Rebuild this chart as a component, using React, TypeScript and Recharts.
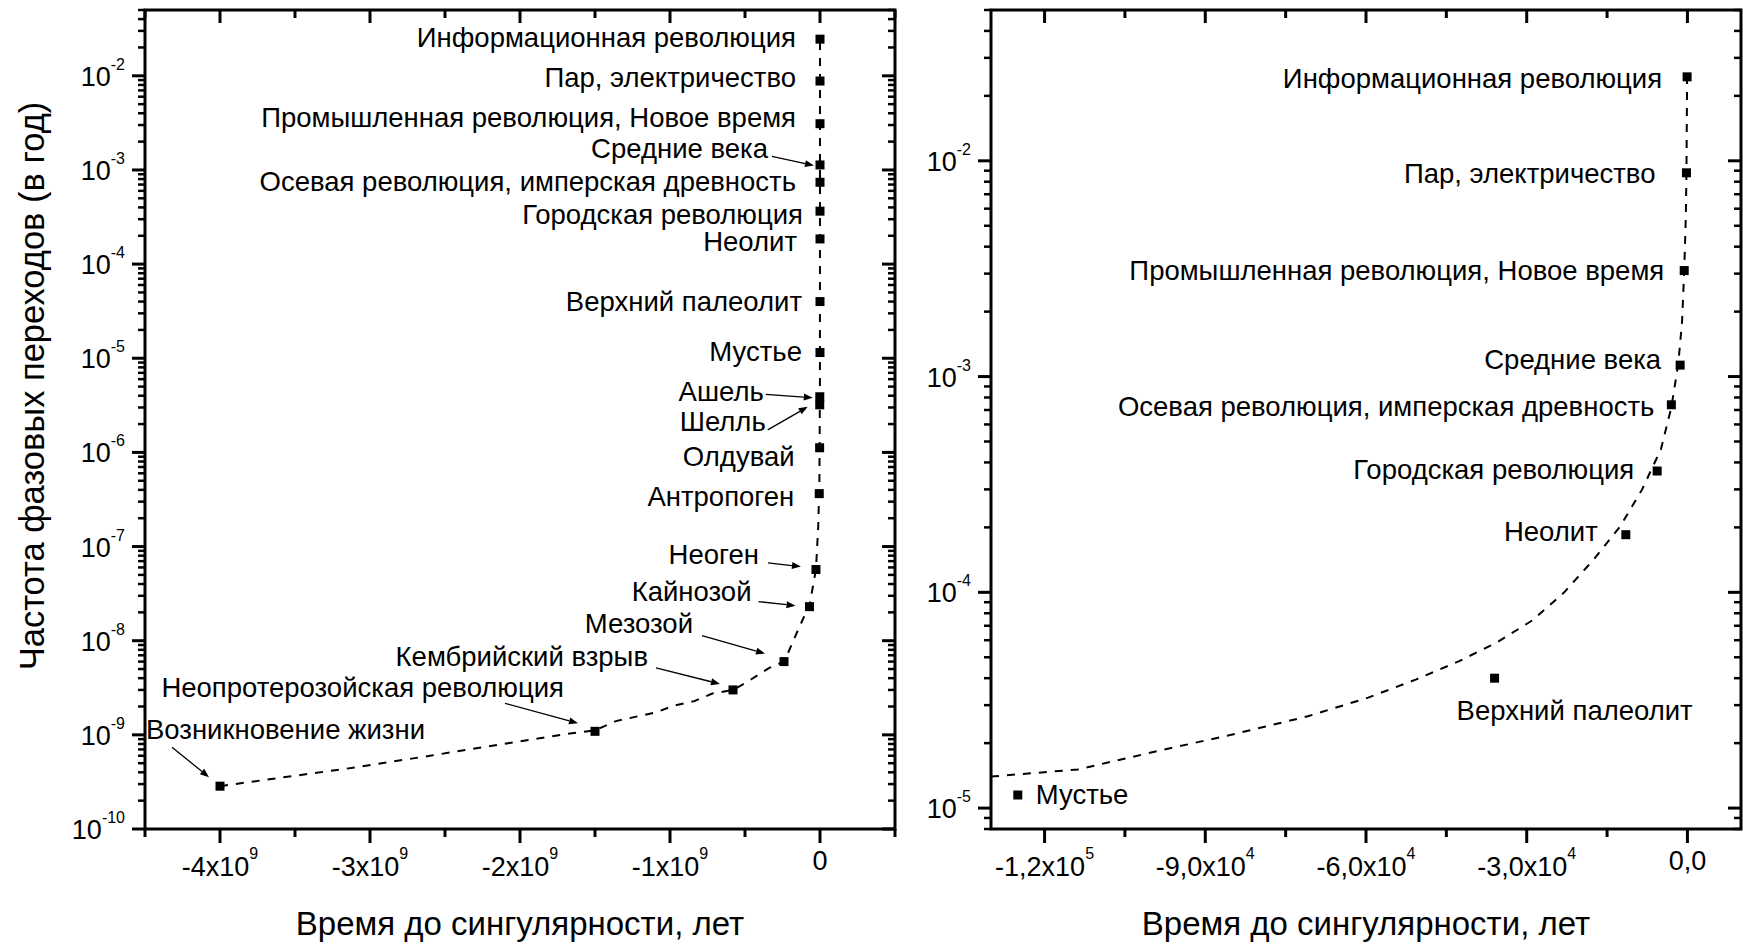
import React from "react";
import { ScatterChart, Scatter, XAxis, YAxis, ReferenceArea } from "recharts";

const FONT = "'Liberation Sans', Arial, Helvetica, sans-serif";
const W = 1743;
const H = 945;
const PLOT_TOP = 10;
const PLOT_BOTTOM = 829;
const LEFT_BOX = [145, 895];
const RIGHT_BOX = [991, 1741];

// события: время до сингулярности (лет) и частота фазовых переходов (в год)
const eventNames = [
  "Информационная революция",
  "Пар, электричество",
  "Промышленная революция, Новое время",
  "Средние века",
  "Осевая революция, имперская древность",
  "Городская революция",
  "Неолит",
  "Верхний палеолит",
  "Мустье",
  "Ашель",
  "Шелль",
  "Олдувай",
  "Антропоген",
  "Неоген",
  "Кайнозой",
  "Мезозой",
  "Кембрийский взрыв",
  "Неопротерозойская революция",
  "Возникновение жизни",
];
const eventYears = [
  -60, -180, -600, -1360, -3000, -5650, -11500, -36000, -125000, -1.4e6, -1.8e6,
  -2.5e6, -5e6, -2.7e7, -7e7, -2.4e8, -5.8e8, -1.5e9, -4.0e9,
];
const eventRates = [
  0.0245, 0.0088, 0.0031, 0.00113, 7.4e-4, 3.65e-4, 1.85e-4, 4.0e-5, 1.15e-5, 3.9e-6,
  3.2e-6, 1.12e-6, 3.65e-7, 5.7e-8, 2.3e-8, 6.0e-9, 3.0e-9, 1.09e-9, 2.85e-10,
];
const RIGHT_COUNT = 9; // правая панель: последние 120 тыс. лет

// пунктирная аппроксимация
const fitLeftYears = [
  -4.0e9, -3.6e9, -3.1e9, -2.6e9, -2.03e9, -1.69e9, -1.5e9, -1.36e9, -1.09e9, -0.985e9,
  -0.838e9, -0.718e9, -0.578e9, -0.46e9, -0.338e9, -0.238e9, -0.16e9, -0.105e9, -0.071e9,
  -0.051e9, -0.027e9, -0.012e9, -4e6, -5e5, -60,
];
const fitLeftRates = [
  2.85e-10, 3.5e-10, 4.5e-10, 6.0e-10, 8.4e-10, 1.02e-9, 1.12e-9, 1.4e-9, 1.74e-9, 2.02e-9,
  2.28e-9, 2.75e-9, 3.0e-9, 3.87e-9, 5.15e-9, 6.0e-9, 1.16e-8, 1.82e-8, 2.3e-8, 3.5e-8,
  5.7e-8, 1.6e-7, 5e-7, 5e-6, 0.0245,
];
const fitRightYears = [
  -130000, -113800, -98800, -84700, -70700, -59600, -50600, -42600, -35600, -29000, -23000,
  -17500, -12500, -8450, -4950, -3000, -1700, -1000, -600, -300, -180, -60,
];
const fitRightRates = [
  1.4e-5, 1.51e-5, 1.84e-5, 2.2e-5, 2.67e-5, 3.25e-5, 3.95e-5, 4.8e-5, 5.85e-5, 7.4e-5, 1.0e-4,
  1.42e-4, 2.03e-4, 3.0e-4, 4.6e-4, 7.2e-4, 1.15e-3, 1.8e-3, 3.1e-3, 5.5e-3, 8.9e-3, 2.45e-2,
];

// оси
const leftXDomain = [-4.5e9, 0.5e9];
const leftXTicks = [-4.5e9, -4e9, -3.5e9, -3e9, -2.5e9, -2e9, -1.5e9, -1e9, -0.5e9, 0, 0.5e9];
const leftXMajor = [-4e9, -3e9, -2e9, -1e9, 0];
const leftXLabels = [["-4x10", "9"], ["-3x10", "9"], ["-2x10", "9"], ["-1x10", "9"], ["0", ""]];
const leftYDomain = [1e-10, 0.05];

const rightXDomain = [-1.3e5, 1e4];
const rightXTicks = [-1.2e5, -1.05e5, -9e4, -7.5e4, -6e4, -4.5e4, -3e4, -1.5e4, 0];
const rightXMajor = [-1.2e5, -9e4, -6e4, -3e4, 0];
const rightXLabels = [["-1,2x10", "5"], ["-9,0x10", "4"], ["-6,0x10", "4"], ["-3,0x10", "4"], ["0,0", ""]];
const rightYDomain = [8e-6, 0.05];

const minorSteps = [1, 2, 3, 4, 5, 6, 7, 8, 9];

const xTitle = "Время до сингулярности, лет";
const yTitle = "Частота фазовых переходов (в год)";

// расположение подписей относительно точек
type Lbl = { dx: number; dy: number; anchor?: "start" | "end"; arrow?: number[] };
const leftLabels: Lbl[] = [
  { dx: -24, dy: -2 },
  { dx: -24, dy: -4 },
  { dx: -24, dy: -6 },
  { dx: -52, dy: -16, arrow: [-48, -8.5, -6, 0.5] },
  { dx: -24, dy: -1 },
  { dx: -17, dy: 3 },
  { dx: -23, dy: 3 },
  { dx: -18, dy: 0 },
  { dx: -18, dy: -1 },
  { dx: -56, dy: -5, arrow: [-54, -2.4, -7, 1] },
  { dx: -54, dy: 17, arrow: [-52, 25, -12, 2] },
  { dx: -25, dy: 9 },
  { dx: -25, dy: 3 },
  { dx: -57, dy: -15, arrow: [-48, -6.7, -15, -3] },
  { dx: -58, dy: -15, arrow: [-51, -5, -14, -1] },
  { dx: -91, dy: -38, arrow: [-82, -26, -19, -8] },
  { dx: -85, dy: -33, arrow: [-77, -22, -13, -6] },
  { dx: -31, dy: -44, arrow: [-90, -28, -17, -8] },
  { dx: -74, dy: -57, anchor: "start", arrow: [-48, -39, -11, -9] },
];
const rightLabels: Lbl[] = [
  { dx: -25, dy: 2 },
  { dx: -31, dy: 1 },
  { dx: -20, dy: 0 },
  { dx: -19, dy: -6 },
  { dx: -17, dy: 2 },
  { dx: -23, dy: -2 },
  { dx: -28, dy: -3 },
  { dx: -38, dy: 32, anchor: "start" },
  { dx: 18, dy: 0, anchor: "start" },
];

const events = eventNames.map((name, i) => ({ name, i, t: eventYears[i], f: eventRates[i] }));
const fitLeft = fitLeftYears.map((t, i) => ({ t, f: fitLeftRates[i] }));
const fitRight = fitRightYears.map((t, i) => ({ t, f: fitRightRates[i] }));

const logTicks = (lo: number, hi: number) => {
  const out: number[] = [];
  for (let d = Math.floor(Math.log10(lo)); d <= Math.floor(Math.log10(hi)); d++) {
    for (const m of minorSteps) {
      const v = m * Math.pow(10, d);
      if (v >= lo * 0.999 && v <= hi * 1.001) out.push(v);
    }
  }
  return out;
};

const Arrow = ({ x1, y1, x2, y2 }: any) => {
  const a = Math.atan2(y2 - y1, x2 - x1);
  const bx = x2 - 9 * Math.cos(a);
  const by = y2 - 9 * Math.sin(a);
  const px = -Math.sin(a) * 3.5;
  const py = Math.cos(a) * 3.5;
  return (
    <g>
      <line x1={x1} y1={y1} x2={bx} y2={by} stroke="#000" strokeWidth={1.3} />
      <polygon points={`${x2},${y2} ${bx + px},${by + py} ${bx - px},${by - py}`} fill="#000" />
    </g>
  );
};

const EventMark = ({ cx, cy, payload, labels }: any) => {
  const l: Lbl | undefined = labels[payload.i];
  return (
    <g>
      <rect x={cx - 4.5} y={cy - 4.5} width={9} height={9} fill="#000" />
      {l && (
        <text
          x={cx + l.dx}
          y={cy + l.dy}
          textAnchor={l.anchor ?? "end"}
          dominantBaseline="central"
          fontFamily={FONT}
          fontSize={27.5}
          fill="#000"
        >
          {payload.name}
        </text>
      )}
      {l && l.arrow && (
        <Arrow x1={cx + l.arrow[0]} y1={cy + l.arrow[1]} x2={cx + l.arrow[2]} y2={cy + l.arrow[3]} />
      )}
    </g>
  );
};

const XTick = ({ x, payload, majors, labels }: any) => {
  const i = majors.findIndex((m: number) => Math.abs(m - payload.value) < 1e-6 * Math.max(1, Math.abs(m)));
  const major = i >= 0;
  const lbl = major ? labels[i] : null;
  return (
    <g>
      <line x1={x} x2={x} y1={PLOT_BOTTOM} y2={PLOT_BOTTOM + (major ? 14 : 8)} stroke="#000" strokeWidth={3} />
      <line x1={x} x2={x} y1={PLOT_TOP} y2={PLOT_TOP + (major ? 13 : 8)} stroke="#000" strokeWidth={3} />
      {lbl && (
        <text x={x} y={lbl[1] ? 876 : 870} textAnchor="middle" fontFamily={FONT} fontSize={27} fill="#000">
          {lbl[0]}
          {lbl[1] && (
            <tspan dy={-17} fontSize={16}>
              {lbl[1]}
            </tspan>
          )}
        </text>
      )}
    </g>
  );
};

const YTick = ({ y, payload, box }: any) => {
  const e = Math.log10(payload.value);
  const major = Math.abs(e - Math.round(e)) < 1e-6;
  const len = major ? 13 : 7;
  const sw = major ? 3 : 2.5;
  return (
    <g>
      <line x1={box[0] - len} x2={box[0]} y1={y} y2={y} stroke="#000" strokeWidth={sw} />
      <line x1={box[1] - len} x2={box[1]} y1={y} y2={y} stroke="#000" strokeWidth={sw} />
      {major && (
        <text x={box[0] - 20} y={y + 10} textAnchor="end" fontFamily={FONT} fontSize={27} fill="#000">
          10
          <tspan dy={-16} fontSize={16}>
            {Math.round(e)}
          </tspan>
        </text>
      )}
    </g>
  );
};

const Panel = ({ box, xDomain, yDomain, xTicks, xMajor, xLabels, data, fit, labels }: any) => {
  const yAxisW = 100;
  const xAxisH = 60;
  return (
    <div style={{ position: "absolute", left: 0, top: 0 }}>
      <ScatterChart
        width={W}
        height={H}
        margin={{ top: PLOT_TOP, left: box[0] - yAxisW, right: W - box[1], bottom: H - PLOT_BOTTOM - xAxisH }}
      >
        <XAxis
          type="number"
          dataKey="t"
          domain={xDomain}
          ticks={xTicks}
          interval={0}
          allowDataOverflow
          height={xAxisH}
          axisLine={false}
          tickLine={false}
          tickSize={0}
          tickMargin={0}
          tick={(p: any) => <XTick {...p} majors={xMajor} labels={xLabels} />}
        />
        <YAxis
          type="number"
          dataKey="f"
          scale="log"
          domain={yDomain}
          ticks={logTicks(yDomain[0], yDomain[1])}
          interval={0}
          allowDataOverflow
          width={yAxisW}
          axisLine={false}
          tickLine={false}
          tickSize={0}
          tickMargin={0}
          tick={(p: any) => <YTick {...p} box={box} />}
        />
        <ReferenceArea
          x1={xDomain[0]}
          x2={xDomain[1]}
          y1={yDomain[0]}
          y2={yDomain[1]}
          fill="none"
          stroke="#000"
          strokeWidth={3}
          ifOverflow="visible"
        />
        <Scatter
          data={fit}
          line={{ stroke: "#000", strokeWidth: 2, strokeDasharray: "8 8" }}
          shape={() => <g />}
          isAnimationActive={false}
        />
        <Scatter
          data={data}
          shape={(p: any) => <EventMark {...p} labels={labels} />}
          isAnimationActive={false}
        />
      </ScatterChart>
    </div>
  );
};

export default function App() {
  return (
    <div style={{ position: "absolute", left: 0, top: 0, width: W, height: H, background: "#fff", overflow: "hidden" }}>
      <Panel
        box={LEFT_BOX}
        xDomain={leftXDomain}
        yDomain={leftYDomain}
        xTicks={leftXTicks}
        xMajor={leftXMajor}
        xLabels={leftXLabels}
        data={events}
        fit={fitLeft}
        labels={leftLabels}
      />
      <Panel
        box={RIGHT_BOX}
        xDomain={rightXDomain}
        yDomain={rightYDomain}
        xTicks={rightXTicks}
        xMajor={rightXMajor}
        xLabels={rightXLabels}
        data={events.slice(0, RIGHT_COUNT)}
        fit={fitRight}
        labels={rightLabels}
      />
      <svg width={W} height={H} style={{ position: "absolute", left: 0, top: 0, pointerEvents: "none" }}>
        <text x={(LEFT_BOX[0] + LEFT_BOX[1]) / 2} y={935} textAnchor="middle" fontFamily={FONT} fontSize={33}>
          {xTitle}
        </text>
        <text x={(RIGHT_BOX[0] + RIGHT_BOX[1]) / 2} y={935} textAnchor="middle" fontFamily={FONT} fontSize={33}>
          {xTitle}
        </text>
        <text
          transform="translate(32 386) rotate(-90)"
          textAnchor="middle"
          dominantBaseline="central"
          fontFamily={FONT}
          fontSize={34.5}
        >
          {yTitle}
        </text>
      </svg>
    </div>
  );
}
